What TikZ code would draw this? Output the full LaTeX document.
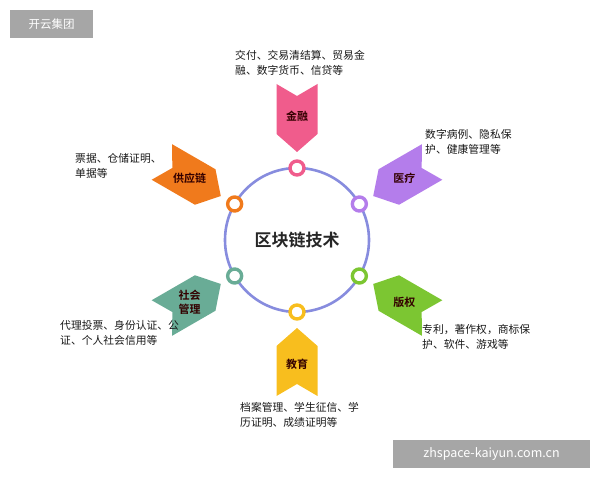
\documentclass[tikz,border=0pt]{standalone}
\usepackage{fontspec}
\usetikzlibrary{calc}
\setmainfont{Noto Sans CJK SC}
\newfontfamily\cjkb{Noto Sans CJK SC Bold}
\begin{document}
\begin{tikzpicture}[x=1pt,y=1pt,
  desc/.style={align=left,anchor=north west,font=\fontsize{10.8}{15.5}\selectfont,text=black!90,inner sep=0},
  lab/.style={font=\cjkb\fontsize{11}{14}\selectfont,text=black!80!red,align=center,inner sep=0},
  ringst/.style={circle,draw=#1,line width=3.4pt,fill=white,minimum size=14pt,inner sep=0}]
\useasboundingbox (0,0) rectangle (600,480);
\definecolor{cpink}{RGB}{240,92,140}
\definecolor{cpurple}{RGB}{180,125,235}
\definecolor{corange}{RGB}{240,122,28}
\definecolor{cteal}{RGB}{105,172,150}
\definecolor{cgreen}{RGB}{124,198,50}
\definecolor{cyellow}{RGB}{248,190,30}
\definecolor{cring}{RGB}{135,140,222}
\coordinate (c) at (297,240);
\draw[cring,line width=2.6pt] (c) circle (72);
\node[font=\cjkb\fontsize{17}{19}\selectfont,text=black!85] (title) at (c) {区块链技术};
\foreach \a/\col/\txt/\nm in {90/cpink/金融/fin, 30/cpurple/医疗/med, 150/corange/供应链/sup, 210/cteal/{社会\\管理}/soc, 330/cgreen/版权/cop, 270/cyellow/教育/edu}{
  \begin{scope}[shift={($(c)+(\a:122)$)},rotate=\a+180]
    \fill[\col] (-34,20.5) -- (-22,0) -- (-34,-20.5) -- (16,-20.5) -- (34,0) -- (16,20.5) -- cycle;
  \end{scope}
  \node[lab] (\nm) at ($(c)+(\a:124)$) {\txt};
  \node[ringst=\col] (r\nm) at ($(c)+(\a:72)$) {};
}
\node[desc] (dfin) at (235,430) {交付、交易清结算、贸易金\\融、数字货币、信贷等};
\node[desc] (dmed) at (425,351) {数字病例、隐私保\\护、健康管理等};
\node[desc] (dsup) at (75,327) {票据、仓储证明、\\单据等};
\node[desc] (dsoc) at (60,160) {代理投票、身份认证、公\\证、个人社会信用等};
\node[desc] (dcop) at (422,156) {专利，著作权，商标保\\护、软件、游戏等};
\node[desc] (dedu) at (240,78) {档案管理、学生征信、学\\历证明、成绩证明等};
\fill[black!35] (10,442) rectangle (93,470);
\node[text=white,font=\fontsize{11.5}{13}\selectfont] (wm1) at (51.5,456) {开云集团};
\fill[black!35] (393,12) rectangle (590,40);
\node[text=white,font=\fontsize{12.5}{14}\selectfont] (wm2) at (491.5,26) {zhspace-kaiyun.com.cn};
\end{tikzpicture}
\end{document}
